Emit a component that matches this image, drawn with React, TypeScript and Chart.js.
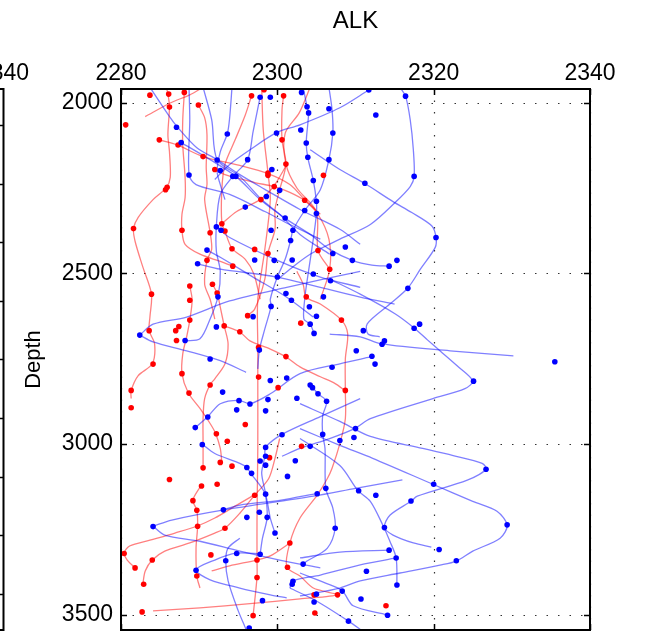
import React, { useEffect, useRef } from 'react';
import { Chart, registerables } from 'chart.js';

Chart.register(...registerables);

type P = [number, number];

const xTicks = [2280, 2300, 2320, 2340];
const yTicks = [2000, 2500, 3000, 3500];
const xMin = 2280;
const xMax = 2340;
const yMin = 1960;
const yMax = 3545;
const titleText = 'ALK';
const yTitle = 'Depth';
const leftPanelLabel = '2340';

// Blue profiles (x = ALK, y = depth)
const B1: P[] = [[2315.7,1955],[2316.4,1981],[2317.0,2050],[2317.4,2138],[2317.5,2216],[2317.0,2246],[2315.1,2292],[2311.9,2357],[2308.0,2400],[2304.2,2444],[2301.6,2488],[2300.1,2517]];
const B2: P[] = [[2304.2,2138],[2308.0,2196],[2311.2,2237],[2314.8,2290],[2317.2,2322],[2319.8,2362],[2320.3,2395],[2320.2,2424],[2318.3,2488],[2316.7,2543],[2314.4,2590],[2311.5,2648],[2311.6,2678],[2313.1,2686]];
const B3: P[] = [[2306.7,2517],[2310.6,2561],[2315.1,2619],[2317.5,2660],[2319.2,2695],[2320.8,2727],[2323.0,2771],[2325.0,2815],[2324.0,2838],[2319.9,2867],[2311.9,2926],[2309.9,2955],[2306.7,2984],[2302.9,3013],[2300.6,3036]];
const B4: P[] = [[2306.7,2678],[2310.6,2686],[2313.4,2707],[2322.1,2727],[2330.2,2742]];
const B5: P[] = [[2302.9,2984],[2308.0,3063],[2310.3,3136],[2311.9,3168],[2313.5,3238],[2314.4,3285],[2315.2,3334],[2315.3,3413]];
const B6: P[] = [[2302.9,2955],[2308.0,3004],[2312.2,3042],[2319.9,3118],[2325.0,3168],[2328.1,3197],[2329.4,3238],[2328.5,3276],[2325.0,3314],[2322.9,3343],[2320.8,3355],[2315.7,3378],[2310.6,3401],[2308.0,3422],[2302.9,3445]];
const B7: P[] = [[2302.9,2882],[2308.0,2934],[2311.9,2978],[2318.6,3013],[2322.5,3034],[2326.2,3057],[2326.7,3074],[2324.3,3106],[2317.9,3153],[2317.1,3168],[2314.4,3209],[2313.7,3244],[2314.8,3267],[2317.4,3290],[2319.7,3302]];
const B8: P[] = [[2302.9,3378],[2306.1,3407],[2308.3,3430],[2309.7,3474],[2314.0,3500]];
const B9: P[] = [[2311.7,1963],[2308.0,2015],[2302.9,2065],[2299.9,2088],[2296.5,2138],[2293.9,2181],[2292.0,2225]];
const B10: P[] = [[2283.7,1955],[2286.3,2044],[2287.2,2071],[2289.7,2132],[2292.3,2167],[2295.2,2211],[2298.4,2254],[2302.9,2313],[2308.0,2371],[2310.6,2415]];
const B11: P[] = [[2287.7,2117],[2291.4,2167],[2294.7,2216],[2297.8,2284],[2301.0,2339],[2304.2,2386],[2306.7,2430],[2309.6,2462],[2312.1,2476],[2314.3,2479]];
const B12: P[] = [[2288.7,1955],[2288.8,2050],[2288.7,2211],[2289.6,2240],[2293.9,2269],[2298.4,2319],[2301.6,2357],[2305.5,2400]];
const B13: P[] = [[2294.2,1955],[2293.9,2044],[2293.6,2091],[2292.7,2144],[2292.3,2202],[2292.7,2240],[2293.3,2284]];
const B14: P[] = [[2297.8,1983],[2296.9,2085],[2296.2,2167],[2294.3,2216],[2292.7,2269],[2292.2,2362],[2292.2,2435],[2292.7,2494],[2292.4,2569],[2291.4,2634],[2290.1,2692],[2288.2,2698]];
const B15: P[] = [[2303.3,1955],[2303.8,2012],[2304.0,2030],[2303.7,2117],[2303.9,2161],[2304.6,2228],[2305.0,2290],[2305.0,2325],[2304.6,2400],[2303.8,2523],[2303.5,2576],[2303.4,2634],[2304.2,2649],[2304.7,2676]];
const B16: P[] = [[2306.6,1955],[2307.0,2021],[2307.1,2089],[2306.6,2167],[2305.5,2255],[2303.5,2316],[2302.0,2374],[2301.7,2404],[2301.0,2459],[2300.0,2511],[2299.1,2576],[2299.2,2596],[2298.4,2663],[2297.7,2725],[2297.5,2780]];
const B17: P[] = [[2284.1,3241],[2285.6,3267],[2290.1,3285],[2295.2,3314],[2300.3,3340],[2305.5,3363]];
const B18: P[] = [[2284.1,3241],[2286.5,3223],[2293.0,3194],[2304.6,3153],[2310.0,3130],[2316.0,3105]];
const B19: P[] = [[2298.0,3322],[2294.7,3320],[2292.0,3340],[2289.6,3369],[2291.4,3398],[2295.2,3422],[2299.1,3442],[2301.2,3451]];
const B20: P[] = [[2295.2,3276],[2293.7,3305],[2293.4,3342],[2293.7,3401],[2295.0,3489],[2295.9,3538],[2296.2,3560]];
const B21: P[] = [[2301.6,3422],[2302.0,3401],[2305.5,3384],[2310.6,3354],[2315.2,3334]];
const B22: P[] = [[2310.6,2867],[2305.5,2920],[2300.6,2972],[2298.5,3010],[2298.4,3036],[2298.0,3086],[2298.5,3147],[2298.7,3215],[2298.1,3276],[2297.8,3323]];
const B23: P[] = [[2304.2,2826],[2305.2,2853],[2306.3,2875],[2305.8,2917],[2305.8,2971],[2306.1,3013],[2306.2,3130],[2307.1,3188],[2307.4,3247],[2306.4,3305],[2303.8,3343],[2303.3,3352]];
const B24: P[] = [[2289.5,2952],[2291.1,2920],[2292.7,2882],[2295.1,2872],[2296.5,2882],[2299.1,2853],[2302.9,2794],[2308.0,2765],[2311.9,2745]];
const B25: P[] = [[2290.4,3001],[2292.0,3028],[2295.2,3057],[2296.1,3069],[2296.6,3086],[2298.4,3144],[2299.1,3217],[2299.7,3261]];
const B26: P[] = [[2290.5,1955],[2291.6,2050],[2292.3,2167],[2295.2,2216],[2298.0,2284],[2300.3,2327],[2302.9,2386],[2306.7,2444]];
const B27: P[] = [[2293.1,3193],[2295.2,3179],[2300.3,3165],[2305.1,3145]];
const B28: P[] = [[2302.9,3334],[2308.0,3317],[2314.3,3311]];
const B29: P[] = [[2282.4,2681],[2284.1,2649],[2288.4,2628],[2293.9,2581],[2301.2,2541],[2310.6,2494]];
const B30: P[] = [[2289.8,2472],[2292.7,2488],[2299.9,2511],[2310.6,2570],[2315.0,2590]];
const B31: P[] = [[2292.2,2364],[2293.9,2395],[2300.3,2465],[2305.5,2511],[2310.6,2541]];
const B32: P[] = [[2291.0,2432],[2292.7,2453],[2296.9,2511],[2301.2,2570],[2304.6,2628]];
const B33: P[] = [[2301.6,3422],[2305.0,3460],[2309.1,3519],[2311.0,3550]];
const B34: P[] = [[2282.4,2681],[2284.1,2701],[2288.4,2727],[2292.7,2756],[2296.0,2790]];

// Red profiles
const R1: P[] = [[2285.8,1955],[2286.0,1974],[2286.2,2012],[2286.0,2094],[2286.2,2144],[2286.3,2219],[2285.8,2249],[2284.1,2284],[2282.2,2336],[2281.6,2369],[2281.8,2406],[2282.8,2482],[2283.9,2561],[2283.7,2628],[2283.6,2668],[2284.3,2707],[2284.0,2765],[2282.2,2800],[2281.3,2844],[2281.3,2867]];
const R2: P[] = [[2288.1,1955],[2288.1,1970],[2287.9,2050],[2287.9,2123],[2288.2,2219],[2288.2,2278],[2287.8,2327],[2287.8,2374],[2288.2,2415],[2290.1,2444],[2292.7,2465],[2294.3,2479]];
const R3: P[] = [[2289.9,2007],[2290.7,2044],[2291.0,2094],[2290.9,2190],[2291.0,2240],[2290.7,2284],[2291.4,2380],[2291.6,2430],[2291.0,2462],[2290.7,2532],[2291.4,2576],[2292.0,2634]];
const R4: P[] = [[2283.1,2041],[2286.3,2001],[2288.8,1977],[2290.5,1955]];
const R5: P[] = [[2284.9,2109],[2287.2,2124],[2290.5,2158],[2295.2,2184],[2298.8,2208],[2301.6,2240],[2303.5,2284],[2305.5,2327]];
const R6: P[] = [[2292.0,2196],[2293.3,2211],[2297.1,2234],[2299.6,2246],[2301.6,2263],[2303.5,2287],[2305.2,2327],[2306.6,2400],[2306.7,2488],[2305.5,2576]];
const R7: P[] = [[2298.0,1955],[2298.2,2080],[2298.8,2205],[2299.1,2284],[2298.4,2430],[2297.5,2576],[2297.5,2715],[2297.5,2803],[2297.5,3013],[2297.4,3217],[2297.4,3340],[2297.4,3390],[2296.9,3503]];
const R8: P[] = [[2300.8,1980],[2300.6,2021],[2300.6,2109],[2301.1,2180],[2300.3,2255],[2299.7,2313],[2299.7,2371],[2298.8,2441],[2298.4,2517],[2297.1,2605],[2296.1,2625]];
const R9: P[] = [[2296.7,1980],[2295.9,2036],[2294.6,2109],[2293.3,2181],[2292.9,2255],[2292.9,2353],[2293.3,2377],[2294.2,2427],[2295.9,2459],[2297.0,2502],[2297.8,2576]];
const R10: P[] = [[2288.8,2537],[2289.1,2578],[2288.8,2637],[2288.4,2686],[2287.9,2736],[2287.8,2794],[2288.6,2850],[2290.1,2896],[2291.4,2940],[2292.1,2969],[2292.7,3013],[2292.9,3054]];
const R11: P[] = [[2291.7,2532],[2292.3,2558],[2292.7,2599],[2293.2,2654],[2293.7,2707],[2293.3,2765],[2292.0,2809],[2291.4,2826],[2290.7,2867],[2290.5,2926],[2290.5,2999],[2290.5,3069]];
const R12: P[] = [[2308.7,2844],[2307.4,2823],[2305.5,2803],[2302.9,2774],[2301.1,2745],[2299.1,2722],[2296.5,2698],[2295.2,2672],[2293.2,2654]];
const R13: P[] = [[2308.7,2844],[2308.7,2926],[2308.0,2999],[2307.0,3071],[2306.4,3101],[2305.1,3150],[2302.9,3217],[2301.6,3290],[2301.2,3360],[2302.9,3387],[2304.6,3422],[2307.6,3442],[2302.9,3454],[2296.5,3468],[2290.1,3480],[2284.1,3489]];
const R14: P[] = [[2281.8,3363],[2280.8,3340],[2280.4,3320],[2281.1,3299],[2283.7,3282],[2286.9,3261],[2289.7,3241],[2292.0,3217],[2294.6,3182],[2297.0,3150]];
const R15: P[] = [[2282.8,3410],[2283.1,3372],[2284.0,3340],[2285.6,3314],[2288.8,3290],[2292.0,3261],[2293.3,3247],[2295.2,3203],[2297.1,3150],[2298.9,3101],[2299.7,3042],[2300.3,2984]];
const R16: P[] = [[2291.6,3372],[2293.9,3357],[2297.4,3340],[2299.1,3328],[2301.6,3290]];
const R17: P[] = [[2290.2,3123],[2289.2,3165],[2289.7,3194],[2289.8,3241],[2289.6,3305],[2289.7,3387],[2290.1,3422]];
const R18: P[] = [[2304.2,1955],[2302.8,2030],[2301.0,2090],[2301.1,2180],[2302.5,2250],[2305.0,2320],[2305.2,2433],[2306.7,2488]];
const R19: P[] = [[2302.5,2494],[2303.3,2532],[2303.7,2570],[2305.5,2590],[2308.2,2637],[2309.0,2677],[2308.7,2751],[2308.7,2844]];
const R20: P[] = [[2292.9,2355],[2294.8,2319],[2297.8,2284],[2299.5,2246],[2301.2,2182]];

const redDots: P[] = [
  [2283.7,1978],[2286.1,1975],[2288.1,1970],[2286.2,2013],[2289.9,2007],[2298.3,1962],[2296.7,1980],[2300.8,1980],[2280.6,2065],[2284.9,2109],[2287.3,2124],[2290.5,2158],[2300.6,2109],[2301.1,2180],[2292.0,2196],[2298.8,2206],[2298.8,2213],[2305.9,2213],[2299.6,2246],[2285.9,2248],[2285.7,2255],[2297.9,2284],[2303.5,2286],[2281.6,2369],[2287.8,2374],[2292.9,2355],[2293.3,2376],[2291.4,2381],[2294.2,2428],[2297.1,2430],[2298.8,2442],[2305.2,2433],[2291.0,2462],[2294.3,2479],[2306.7,2488],[2283.9,2561],[2288.8,2537],[2291.7,2532],[2288.8,2579],[2292.3,2558],[2303.7,2569],[2296.2,2624],[2288.8,2637],[2308.2,2637],[2303.0,2646],[2293.2,2654],[2287.4,2656],[2287.0,2668],[2283.6,2668],[2295.2,2671],[2287.1,2697],[2297.6,2717],[2301.1,2744],
  [2284.1,2766],[2287.8,2794],[2281.3,2843],[2281.3,2894],[2288.7,2851],[2291.4,2827],[2297.6,2804],[2300.1,2835],[2308.7,2843],[2295.9,2943],[2292.2,2970],[2293.6,2992],[2303.1,3007],[2299.0,3040],[2290.5,3070],[2292.7,3054],[2294.2,3065],[2286.2,3104],[2290.3,3123],[2292.3,3118],[2297.1,3150],[2289.2,3166],[2289.7,3194],[2289.8,3241],[2293.3,3247],[2301.6,3290],[2280.4,3321],[2284.0,3340],[2291.5,3325],[2297.4,3340],[2281.8,3363],[2301.3,3361],[2289.7,3387],[2297.4,3391],[2282.9,3411],[2304.7,3442],[2307.7,3442],[2304.8,3495],[2282.7,3492],[2296.9,3503],[2313.9,3474]
];

const blueDots: P[] = [
  [2303.1,1970],[2297.8,1984],[2299.1,1984],[2303.8,2012],[2306.6,2018],[2304.0,2030],[2287.1,2072],[2293.6,2092],[2299.9,2089],[2303.0,2080],[2307.1,2089],[2287.7,2117],[2303.7,2118],[2296.2,2167],[2292.3,2168],[2303.9,2160],[2306.6,2167],[2292.7,2199],[2299.3,2196],[2288.7,2212],[2294.3,2216],[2294.7,2216],[2304.6,2228],[2300.3,2257],[2298.6,2275],[2305.0,2289],[2295.9,2306],[2303.5,2316],[2305.0,2325],[2301.0,2338],[2292.2,2364],[2292.8,2374],[2299.2,2374],[2302.0,2374],[2301.7,2404],[2308.7,2423],[2291.0,2432],[2297.1,2461],[2299.6,2462],[2301.9,2461],[2307.1,2442],[2309.6,2462],[2289.8,2472],[2300.0,2511],[2304.6,2502],[2306.8,2522],[2301.1,2559],[2292.4,2569],[2301.8,2579],[2305.9,2569],[2299.2,2597],[2304.1,2598],[2296.9,2627],[2305.0,2626],[2304.2,2649],[2292.2,2657],[2304.7,2676],[2282.4,2681],[2288.2,2697],[2297.7,2725],[2310.1,2727],[2291.4,2751],
  [2311.7,1963],[2316.4,1981],[2312.6,2036],[2317.5,2216],[2311.2,2236],[2320.3,2395],[2315.3,2462],[2314.3,2479],[2316.7,2544],[2318.2,2649],[2317.5,2661],[2311.0,2668],[2313.7,2698],[2313.4,2708],[2312.1,2743],
  [2312.5,2766],[2335.5,2759],[2325.1,2816],[2310.0,2955],[2309.8,2981],[2308.0,2990],[2326.7,3074],[2320.0,3118],[2310.4,3137],[2312.6,3150],[2317.1,3167],[2329.4,3237],[2313.7,3245],[2320.7,3309],[2314.3,3311],[2315.2,3334],[2322.9,3342],[2311.4,3373],[2315.3,3413],[2308.3,3431],[2310.7,3454],[2314.1,3502],[2309.1,3519],
  [2307.0,2775],[2301.2,2807],[2299.1,2814],[2304.2,2827],[2304.5,2835],[2305.2,2853],[2293.0,2848],[2295.1,2873],[2296.5,2883],[2298.8,2870],[2302.5,2866],[2306.3,2875],[2294.8,2900],[2298.5,2903],[2291.1,2921],[2289.5,2952],[2300.6,2973],[2305.8,2972],[2290.4,3002],[2304.2,3007],[2298.5,3010],[2298.5,3036],[2297.8,3050],[2298.5,3062],[2302.3,3049],[2296.1,3069],[2296.7,3086],[2301.3,3095],[2306.2,3130],[2305.1,3146],[2298.5,3147],[2293.1,3193],[2297.7,3200],[2296.1,3215],[2298.7,3215],[2284.1,3242],[2307.4,3247],[2299.7,3261],[2294.8,3321],[2297.8,3323],[2293.4,3342],[2303.3,3352],[2289.6,3370],[2302.0,3402],[2301.9,3411],[2305.0,3440],[2304.7,3463],[2298.1,3459],[2296.4,3539]
];

const blueCurves = [B1,B2,B3,B4,B5,B6,B7,B8,B9,B10,B11,B12,B13,B14,B15,B16,B17,B18,B19,B20,B21,B22,B23,B24,B25,B26,B27,B28,B29,B30,B31,B32,B33,B34];
const redCurves = [R1,R2,R3,R4,R5,R6,R7,R8,R9,R10,R11,R12,R13,R14,R15,R16,R17,R18,R19,R20];

const FONT = "'Liberation Sans', Arial, Helvetica, sans-serif";

const framePlugin = {
  id: 'matlabFrame',
  beforeDatasetsDraw(chart: any) {
    const { ctx, chartArea: a, scales } = chart;
    const xs = scales.x;
    const ys = scales.y;
    ctx.save();
    ctx.strokeStyle = 'rgba(0,0,0,0.8)';
    ctx.lineWidth = 1.2;
    ctx.setLineDash([1.5, 10]);
    xTicks.forEach((v) => {
      const px = Math.round(xs.getPixelForValue(v)) + 0.5;
      ctx.beginPath();
      ctx.moveTo(px, a.top);
      ctx.lineTo(px, a.bottom);
      ctx.stroke();
    });
    yTicks.forEach((v) => {
      const py = Math.round(ys.getPixelForValue(v)) + 0.5;
      ctx.beginPath();
      ctx.moveTo(a.left, py);
      ctx.lineTo(a.right, py);
      ctx.stroke();
    });
    ctx.restore();
  },
  afterDatasetsDraw(chart: any) {
    const { ctx, chartArea: a, scales } = chart;
    const xs = scales.x;
    const ys = scales.y;
    ctx.save();
    ctx.setLineDash([]);
    ctx.strokeStyle = '#000';
    ctx.lineWidth = 1.5;
    const tl = 6;
    xTicks.forEach((v) => {
      const px = Math.round(xs.getPixelForValue(v)) + 0.5;
      ctx.beginPath();
      ctx.moveTo(px, a.top);
      ctx.lineTo(px, a.top + tl);
      ctx.moveTo(px, a.bottom);
      ctx.lineTo(px, a.bottom - tl);
      ctx.stroke();
    });
    yTicks.forEach((v) => {
      const py = Math.round(ys.getPixelForValue(v)) + 0.5;
      ctx.beginPath();
      ctx.moveTo(a.left, py);
      ctx.lineTo(a.left + tl, py);
      ctx.moveTo(a.right, py);
      ctx.lineTo(a.right - tl, py);
      ctx.stroke();
    });
    ctx.lineWidth = 2;
    ctx.strokeRect(a.left, a.top, a.right - a.left, a.bottom - a.top);

    // Neighbouring (clipped) panel on the far left
    const lx = 3.5;
    ctx.beginPath();
    ctx.moveTo(0, a.top);
    ctx.lineTo(lx, a.top);
    ctx.lineTo(lx, a.bottom);
    ctx.lineTo(0, a.bottom);
    ctx.stroke();
    ctx.lineWidth = 1.5;
    for (let k = 0; k < 9; k++) {
      const py = Math.round(a.top + 36 + k * 58.6) + 0.5;
      ctx.beginPath();
      ctx.moveTo(0, py);
      ctx.lineTo(lx, py);
      ctx.stroke();
    }

    ctx.fillStyle = '#000';
    ctx.textAlign = 'center';
    ctx.textBaseline = 'middle';
    ctx.font = `23px ${FONT}`;
    ctx.fillText(leftPanelLabel, lx, 74);
    ctx.font = `24px ${FONT}`;
    ctx.fillText(titleText, (a.left + a.right) / 2, 21);
    ctx.restore();
  },
};

export default function App() {
  const ref = useRef<HTMLCanvasElement>(null);
  useEffect(() => {
    const toPts = (arr: P[]) => arr.map(([x, y]) => ({ x, y }));
    const datasets: any[] = [];
    datasets.push({
      data: toPts(blueDots),
      showLine: false,
      pointRadius: 2.8,
      pointBorderWidth: 0,
      pointBackgroundColor: '#0000ff',
      order: 0,
    });
    datasets.push({
      data: toPts(redDots),
      showLine: false,
      pointRadius: 2.8,
      pointBorderWidth: 0,
      pointBackgroundColor: '#ff0000',
      order: 1,
    });
    blueCurves.forEach((c) =>
      datasets.push({
        data: toPts(c),
        showLine: true,
        pointRadius: 0,
        borderColor: 'rgba(0,0,255,0.5)',
        borderWidth: 1.3,
        tension: 0.3,
        fill: false,
        order: 2,
      })
    );
    redCurves.forEach((c) =>
      datasets.push({
        data: toPts(c),
        showLine: true,
        pointRadius: 0,
        borderColor: 'rgba(255,0,0,0.5)',
        borderWidth: 1.3,
        tension: 0.3,
        fill: false,
        order: 3,
      })
    );

    const chart = new Chart(ref.current as HTMLCanvasElement, {
      type: 'scatter',
      data: { datasets },
      options: {
        responsive: false,
        animation: false,
        devicePixelRatio: 1,
        layout: { padding: { top: 0, left: 0, right: 55, bottom: 2 } },
        plugins: {
          legend: { display: false },
          tooltip: { enabled: false },
          title: { display: false },
        },
        scales: {
          x: {
            type: 'linear',
            position: 'top',
            min: xMin,
            max: xMax,
            afterBuildTicks: (s: any) => {
              s.ticks = xTicks.map((value) => ({ value }));
            },
            afterFit: (s: any) => {
              s.height = 89;
              s.paddingLeft = 0;
              s.paddingRight = 0;
            },
            ticks: {
              color: '#000',
              font: { family: FONT, size: 23 },
              padding: 2,
              maxRotation: 0,
              autoSkip: false,
              callback: (v: any) => String(v),
            },
            grid: { display: false, drawTicks: false },
            border: { display: false },
          },
          y: {
            type: 'linear',
            reverse: true,
            min: yMin,
            max: yMax,
            afterBuildTicks: (s: any) => {
              s.ticks = yTicks.map((value) => ({ value }));
            },
            afterFit: (s: any) => {
              s.width = 121;
              s.paddingTop = 0;
              s.paddingBottom = 0;
            },
            ticks: {
              color: '#000',
              font: { family: FONT, size: 23 },
              padding: 8,
              autoSkip: false,
              callback: (v: any) => String(v),
            },
            title: {
              display: true,
              text: yTitle,
              color: '#000',
              font: { family: FONT, size: 22 },
              padding: { top: 21, bottom: 0 },
            },
            grid: { display: false, drawTicks: false },
            border: { display: false },
          },
        },
      } as any,
      plugins: [framePlugin],
    });
    return () => chart.destroy();
  }, []);

  return (
    <div style={{ position: 'fixed', left: 0, top: 0, width: 645, height: 634, background: '#fff' }}>
      <canvas ref={ref} width={645} height={634} style={{ display: 'block', width: 645, height: 634 }} />
    </div>
  );
}
